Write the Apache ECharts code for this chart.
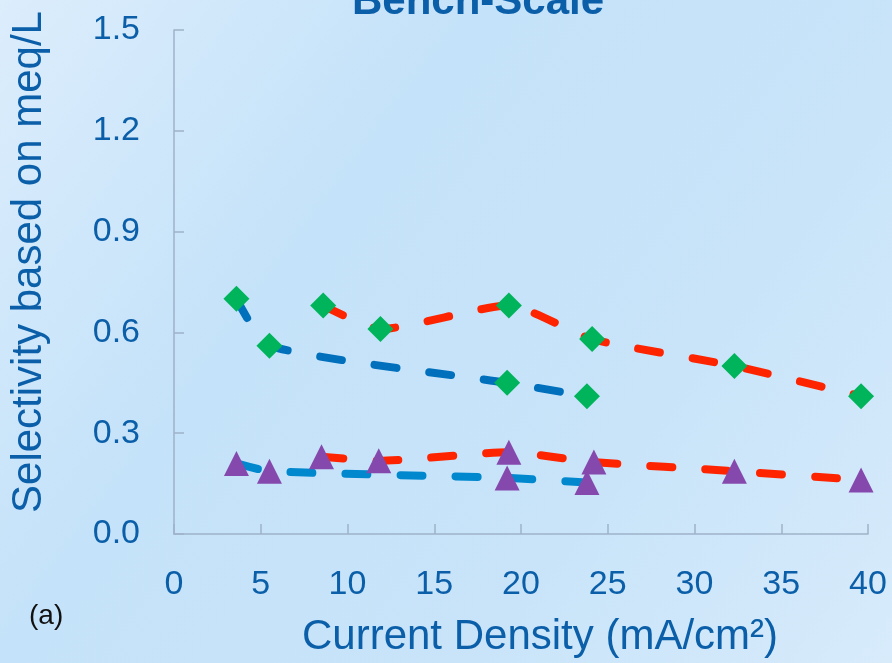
<!DOCTYPE html>
<html>
<head>
<meta charset="utf-8">
<script src="https://cdn.jsdelivr.net/npm/echarts@6/dist/echarts.min.js"></script>
<style>
  html, body { margin: 0; padding: 0; }
  #chart { width: 892px; height: 663px; }
</style>
</head>
<body>
<div id="chart"></div>
<script>
// current density (mA/cm2) and selectivity
const xDiamondBlue = [3.6, 5.5, 19.2, 23.8]
const yDiamondBlue = [0.70, 0.56, 0.45, 0.41]
const xDiamondRed = [8.6, 11.9, 19.3, 24.1, 32.3, 39.6]
const yDiamondRed = [0.68, 0.61, 0.68, 0.58, 0.50, 0.41]
const xTriangleBlue = [3.6, 5.5, 19.2, 23.8]
const yTriangleBlue = [0.21, 0.187, 0.167, 0.153]
const xTriangleRed = [8.5, 11.8, 19.3, 24.2, 32.3, 39.6]
const yTriangleRed = [0.23, 0.218, 0.243, 0.214, 0.187, 0.161]

const font = 'Liberation Sans, Arial, sans-serif'
const textBlue = '#0b5fa9'
const axisGrey = '#9fb2c9'

const pairs = (xs, ys) => xs.map((x, i) => [x, ys[i]])

function dashed(name, xs, ys, lineColor, symbol, symbolColor, size) {
  return {
    name,
    type: 'line',
    data: pairs(xs, ys),
    smooth: 0.2,
    symbol,
    symbolSize: size,
    showAllSymbol: true,
    itemStyle: { color: symbolColor, borderWidth: 0 },
    lineStyle: { color: lineColor, width: 8, type: [22, 33], cap: 'round' },
    emphasis: { disabled: true },
    animation: false
  }
}

const chart = echarts.init(document.getElementById('chart'))
chart.setOption({
  backgroundColor: {
    type: 'linear', x: 0, y: 0, x2: 1, y2: 1,
    colorStops: [
      { offset: 0, color: '#dcedfc' },
      { offset: 0.35, color: '#c4e2f9' },
      { offset: 0.7, color: '#c9e4f9' },
      { offset: 1, color: '#d7ebfb' }
    ]
  },
  grid: { left: 174, right: 24, top: 30, bottom: 129 },
  graphic: [
    {
      type: 'text', left: 352, top: -19,
      style: { text: 'Bench-Scale', font: 'bold 42px ' + font, fill: textBlue }
    },
    {
      type: 'text', left: 29, top: 602,
      style: { text: '(a)', font: '28px ' + font, fill: '#111' }
    }
  ],
  xAxis: {
    type: 'value',
    min: 0,
    max: 40,
    interval: 5,
    name: 'Current Density (mA/cm²)',
    nameLocation: 'middle',
    nameGap: 82,
    nameTextStyle: { color: textBlue, fontSize: 42, fontFamily: font, padding: [0, 0, 0, 38] },
    axisLine: { lineStyle: { color: axisGrey, width: 1.5 } },
    axisTick: { inside: true, length: 10, lineStyle: { color: axisGrey, width: 1.5 } },
    axisLabel: { color: textBlue, fontSize: 34, fontFamily: font, margin: 34 },
    splitLine: { show: false }
  },
  yAxis: {
    type: 'value',
    min: 0,
    max: 1.5,
    interval: 0.3,
    name: 'Selectivity based on meq/L',
    nameLocation: 'middle',
    nameGap: 124,
    nameTextStyle: { color: textBlue, fontSize: 42, fontFamily: font, padding: [0, 0, 0, 40] },
    axisLine: { show: true, lineStyle: { color: axisGrey, width: 1.5 } },
    axisTick: { show: true, inside: true, length: 10, lineStyle: { color: axisGrey, width: 1.5 } },
    axisLabel: { color: textBlue, fontSize: 34, fontFamily: font, margin: 34, formatter: v => v.toFixed(1) },
    splitLine: { show: false }
  },
  series: [
    dashed('Blue, diamonds', xDiamondBlue, yDiamondBlue, '#0070bd', 'diamond', '#00b45c', 26),
    dashed('Red, diamonds', xDiamondRed, yDiamondRed, '#ff2400', 'diamond', '#00b45c', 26),
    dashed('Blue, triangles', xTriangleBlue, yTriangleBlue, '#0088cf', 'triangle', '#8549ad', 25),
    dashed('Red, triangles', xTriangleRed, yTriangleRed, '#ff2400', 'triangle', '#8549ad', 25)
  ]
})
</script>
</body>
</html>
